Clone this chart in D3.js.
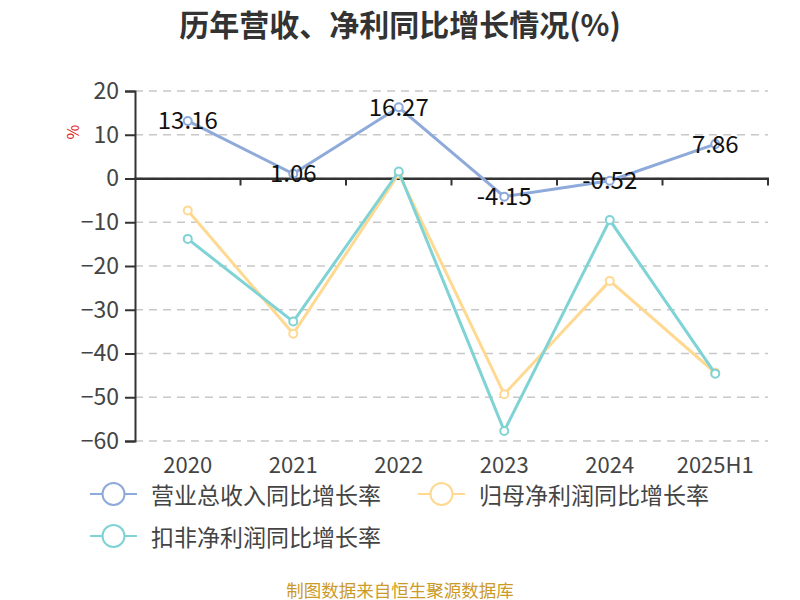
<!DOCTYPE html>
<html>
<head>
<meta charset="utf-8">
<script src="https://cdn.jsdelivr.net/npm/d3@7"></script>
<style>
  body { margin: 0; background: #fff; }
  text { font-family: "Noto Sans CJK SC", "Noto Sans", sans-serif; }
</style>
</head>
<body>
<div id="chart"></div>
<script>
var categories = ["2020", "2021", "2022", "2023", "2024", "2025H1"];
var seriesNames = ["营业总收入同比增长率", "归母净利润同比增长率", "扣非净利润同比增长率"];
var revenueGrowth = [13.16, 1.06, 16.27, -4.15, -0.52, 7.86];
var profitGrowth = [-7.3, -35.5, 1.1, -49.3, -23.4, -44.4];
var deductedGrowth = [-13.8, -32.7, 1.6, -57.7, -9.5, -44.6];
var yTicks = [20, 10, 0, -10, -20, -30, -40, -50, -60];
var colors = ["#8eaadb", "#ffd991", "#7fd3d5"];

var width = 800, height = 600;
var margin = { top: 91, right: 32, bottom: 159, left: 135 };

var svg = d3.select("#chart")
  .append("svg")
  .attr("width", width)
  .attr("height", height);

svg.append("text")
  .attr("x", 400)
  .attr("y", 23)
  .attr("text-anchor", "middle")
  .attr("dominant-baseline", "central")
  .attr("font-size", 30)
  .attr("font-weight", "bold")
  .attr("fill", "#333")
  .text("历年营收、净利同比增长情况(%)");

var x = d3.scaleBand()
  .domain(categories)
  .range([margin.left, width - margin.right]);

var y = d3.scaleLinear()
  .domain([-60, 20])
  .range([height - margin.bottom, margin.top]);

// grid
svg.append("g")
  .selectAll("line")
  .data(yTicks)
  .enter()
  .append("line")
  .attr("x1", margin.left)
  .attr("x2", width - margin.right)
  .attr("y1", function (d) { return y(d) })
  .attr("y2", function (d) { return y(d) })
  .attr("stroke", "#c8c8c8")
  .attr("stroke-width", 1.5)
  .attr("stroke-dasharray", "8,6");

// y axis
var yAxis = svg.append("g")
  .attr("transform", "translate(" + margin.left + ",0)")
  .call(d3.axisLeft(y).tickValues(yTicks).tickSize(10).tickPadding(6));
yAxis.select(".domain").attr("stroke", "#333").attr("stroke-width", 2);
yAxis.selectAll(".tick line").attr("stroke", "#333").attr("stroke-width", 2);
yAxis.selectAll(".tick text")
  .attr("font-size", 23)
  .attr("fill", "#444")
  .style("font-family", "'Noto Sans CJK SC', sans-serif");

svg.append("text")
  .attr("transform", "translate(72,132) rotate(-90)")
  .attr("text-anchor", "middle")
  .attr("dominant-baseline", "central")
  .attr("font-size", 16)
  .attr("fill", "#e02020")
  .text("%");

// x axis on zero
var xAxis = svg.append("g")
  .attr("transform", "translate(0," + y(0) + ")")
  .call(d3.axisBottom(x).tickSizeOuter(0).tickSize(0).tickFormat(""));
xAxis.select(".domain").attr("stroke", "#333").attr("stroke-width", 2);

var bounds = d3.range(categories.length + 1).map(function (i) {
  return margin.left + i * x.step();
});
svg.append("g")
  .selectAll("line")
  .data(bounds.slice(1))
  .enter()
  .append("line")
  .attr("x1", function (d) { return d })
  .attr("x2", function (d) { return d })
  .attr("y1", y(0))
  .attr("y2", y(0) + 7)
  .attr("stroke", "#333")
  .attr("stroke-width", 2);
svg.append("line")
  .attr("x1", margin.left - 1).attr("x2", width - margin.right + 1)
  .attr("y1", y(0)).attr("y2", y(0))
  .attr("stroke", "#333").attr("stroke-width", 2);

svg.append("g")
  .selectAll("text")
  .data(categories)
  .enter()
  .append("text")
  .attr("x", function (d) { return x(d) + x.bandwidth() / 2 })
  .attr("y", 463)
  .attr("text-anchor", "middle")
  .attr("dominant-baseline", "central")
  .attr("font-size", 22)
  .attr("fill", "#444")
  .text(function (d) { return d });

var allSeries = [revenueGrowth, profitGrowth, deductedGrowth];

var line = d3.line()
  .x(function (d, i) { return x(categories[i]) + x.bandwidth() / 2 })
  .y(function (d) { return y(d) });

// yellow first, then teal, blue on top
[1, 2, 0].forEach(function (s) {
  var vals = allSeries[s];
  svg.append("path")
    .datum(vals)
    .attr("d", line)
    .attr("fill", "none")
    .attr("stroke", colors[s])
    .attr("stroke-width", 3);
  svg.append("g")
    .selectAll("circle")
    .data(vals)
    .enter()
    .append("circle")
    .attr("cx", function (d, i) { return x(categories[i]) + x.bandwidth() / 2 })
    .attr("cy", function (d) { return y(d) })
    .attr("r", 4)
    .attr("fill", "#fff")
    .attr("stroke", colors[s])
    .attr("stroke-width", 2);
});

// data labels for revenue
svg.append("g")
  .selectAll("text")
  .data(revenueGrowth)
  .enter()
  .append("text")
  .attr("x", function (d, i) { return x(categories[i]) + x.bandwidth() / 2 })
  .attr("y", function (d) { return y(d) - 2 })
  .attr("text-anchor", "middle")
  .attr("dominant-baseline", "central")
  .attr("font-size", 24)
  .attr("fill", "#111")
  .text(function (d) { return d.toFixed(2) });

// legend
var legendPos = [[90, 494], [418, 494], [90, 536]];
seriesNames.forEach(function (name, i) {
  var g = svg.append("g")
    .attr("transform", "translate(" + legendPos[i][0] + "," + legendPos[i][1] + ")");
  g.append("line")
    .attr("x1", 0).attr("x2", 47)
    .attr("y1", 0).attr("y2", 0)
    .attr("stroke", colors[i])
    .attr("stroke-width", 2);
  g.append("circle")
    .attr("cx", 23.5).attr("cy", 0).attr("r", 11)
    .attr("fill", "#fff")
    .attr("stroke", colors[i])
    .attr("stroke-width", 2);
  g.append("text")
    .attr("x", 61).attr("y", 0)
    .attr("dominant-baseline", "central")
    .attr("font-size", 23)
    .attr("fill", "#444")
    .text(name);
});

svg.append("text")
  .attr("x", 400)
  .attr("y", 589)
  .attr("text-anchor", "middle")
  .attr("dominant-baseline", "central")
  .attr("font-size", 17.5)
  .attr("fill", "#cc9a26")
  .text("制图数据来自恒生聚源数据库");
</script>
</body>
</html>
